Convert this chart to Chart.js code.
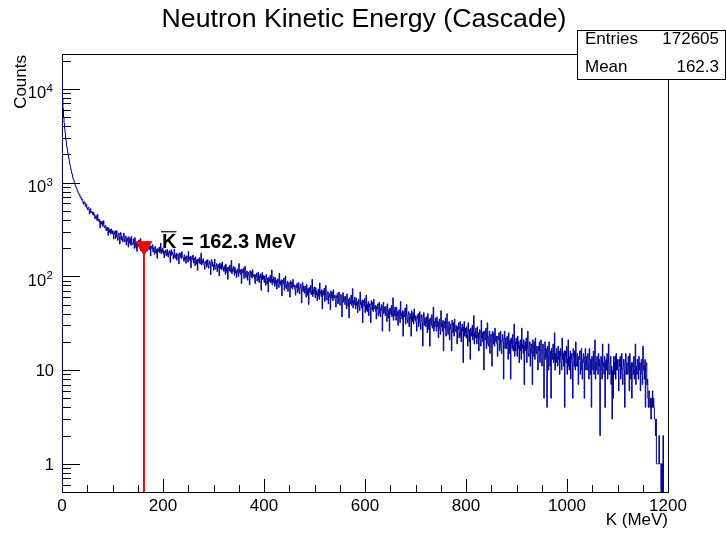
<!DOCTYPE html>
<html><head><meta charset="utf-8">
<script src="https://cdn.jsdelivr.net/npm/chart.js@4.4.0/dist/chart.umd.min.js"></script>
<style>html,body{margin:0;padding:0;background:#fff;}canvas{display:block;}</style>
</head><body>
<canvas id="c" width="726" height="534"></canvas>
<script>
const chartTitle = 'Neutron Kinetic Energy (Cascade)';
const xTitle = 'K (MeV)';
const yTitle = 'Counts';
const binStart = 0;
const binWidth = 1;
const counts = [
12310,7870,6150,5020,4310,3760,3380,2990,2770,2460,2300,2090,1980,1810,1730,1590,1520,1410,1360,1260,
1230,1140,1085,1068,995,982,921,917,868,861,812,806,771,768,731,735,694,702,668,652,
665,628,590,626,603,615,558,565,592,538,516,542,548,517,465,518,529,476,495,474,
479,451,486,450,458,412,435,445,413,395,459,401,407,381,403,330,382,385,362,388,
342,360,392,339,329,345,350,307,327,333,313,273,330,313,295,314,283,321,292,285,
308,280,250,299,285,306,255,272,308,258,242,277,290,264,221,278,294,245,269,251,
234,260,290,241,234,259,270,216,248,258,237,205,265,246,225,255,214,266,229,222,
218,251,227,199,259,231,204,232,185,235,222,209,244,200,209,254,188,216,198,228,
206,191,220,199,209,183,203,214,195,187,236,200,208,193,212,165,205,210,197,218,
182,202,188,172,209,194,177,195,156,198,191,184,205,179,185,226,174,192,181,200,
187,173,158,185,179,191,165,174,194,169,161,180,188,175,141,184,193,168,182,174,
153,168,195,160,156,170,177,149,166,173,162,136,179,170,159,176,155,183,164,160,
158,145,170,153,161,138,156,166,149,142,185,153,160,147,164,123,157,162,151,169,
139,157,144,130,162,149,135,151,116,153,147,140,159,136,142,177,132,147,138,154,
144,132,119,143,138,148,125,134,151,129,122,139,146,134,104,142,151,128,141,133,
116,129,153,122,119,131,137,112,128,134,124,101,139,131,121,136,117,142,126,123,
113,130,118,105,135,123,110,124,93,126,120,115,132,111,116,148,107,121,113,128,
114,103,125,109,117,97,112,120,107,100,137,110,116,105,119,84,114,118,108,123,
95,107,128,100,97,108,114,91,105,110,102,81,115,108,99,112,96,118,103,100,
105,95,84,104,99,108,89,96,111,92,86,101,106,97,71,103,110,92,102,95,
86,101,91,80,105,95,83,96,68,98,93,88,103,85,89,117,81,93,86,99,
88,78,97,84,91,73,86,94,81,76,108,84,89,80,92,62,88,91,83,96,
71,82,101,76,74,84,89,69,81,86,78,60,90,83,76,87,73,93,79,77,
81,72,63,80,76,84,67,73,86,70,65,77,83,74,52,80,86,69,79,73,
66,79,70,60,82,73,63,74,50,76,71,67,80,64,68,93,61,72,65,77,
68,59,76,64,70,55,66,73,62,57,85,65,69,61,72,45,67,71,63,75,
54,63,80,58,56,65,69,51,62,66,60,44,70,64,58,68,55,72,61,59,
63,55,47,62,59,66,51,56,68,53,49,60,64,57,37,62,67,53,61,56,
50,61,53,45,65,56,48,57,36,59,55,51,63,49,52,74,46,55,50,60,
52,45,59,49,54,41,51,57,47,43,68,50,53,46,56,32,52,55,48,58,
41,49,63,44,42,50,54,38,47,51,46,32,55,50,44,53,42,57,47,45,
49,42,35,48,45,51,38,43,53,40,37,46,50,43,26,48,53,40,47,43,
38,48,41,33,51,44,36,44,26,46,42,39,49,37,40,59,34,43,38,47,
41,34,47,38,42,30,39,44,36,32,54,38,41,35,43,23,40,43,37,46,
31,38,50,34,32,39,42,29,37,40,35,23,43,38,33,41,31,45,36,34,
38,32,26,38,35,40,29,33,42,31,27,36,39,33,18,37,41,30,36,33,
29,37,32,25,40,34,27,35,18,36,33,30,39,28,30,47,26,33,29,36,
31,26,37,29,33,22,30,35,27,24,43,29,32,26,34,16,31,33,28,36,
23,29,40,26,24,30,33,21,28,31,27,16,34,30,25,32,23,35,27,26,
30,25,19,29,27,32,22,25,33,23,20,28,31,26,12,29,33,23,28,25,
22,29,24,18,32,26,20,27,13,28,25,23,30,21,23,38,19,25,22,28,
24,19,29,22,25,16,23,27,21,18,34,22,25,20,26,10,24,26,21,28,
17,22,32,19,18,23,26,15,22,24,20,11,26,23,19,25,18,28,21,20,
23,19,14,23,21,25,16,19,26,17,15,21,24,20,8,22,26,17,22,19,
17,23,19,13,25,20,15,21,8,22,19,17,24,16,18,31,14,20,16,22,
19,14,23,17,20,12,18,21,16,13,28,17,19,15,21,7,18,20,16,22,
12,17,26,15,14,18,20,11,17,19,15,7,21,18,14,20,13,22,16,15,
18,14,10,18,16,20,12,15,21,13,11,16,19,15,5,17,20,13,17,14,
4,18,14,10,20,16,11,16,5,17,15,13,19,12,13,25,10,15,12,17,
14,11,18,13,16,9,14,17,12,10,22,13,15,11,16,4,14,16,12,18,
9,13,21,11,10,14,16,8,13,15,12,5,17,14,11,16,10,20,12,11,
15,11,7,14,13,16,9,12,17,10,8,13,15,12,5,14,17,10,14,11,
10,15,12,8,17,13,9,13,4,14,12,10,16,9,11,21,8,12,10,14,
12,9,15,11,13,2,11,14,10,8,19,11,12,9,14,4,12,13,10,15,
8,12,19,9,9,12,14,7,11,3,10,5,14,12,9,14,8,15,10,10,
13,10,6,13,11,14,8,10,15,9,7,11,13,10,4,12,15,9,12,10,
9,14,10,6,15,11,8,12,5,12,11,9,14,8,10,19,7,11,9,13,
11,8,14,10,12,6,10,13,9,7,18,10,11,8,13,4,11,12,7,8,
5,4,6,5,4,5,3,5,4,6,4,5,4,3,3,2,3,1,1,1,
1,1,2,1,1,1,0,1,1,0,2,0,0,0,0,0,0,0,0,0
];
const xTickValues = [0, 200, 400, 600, 800, 1000, 1200];
const xTickLabels = ['0', '200', '400', '600', '800', '1000', '1200'];
const yTickValues = [1, 10, 100, 1000, 10000];
const yTickBases = ['1', '10', '10', '10', '10'];
const yTickExponents = ['', '', '2', '3', '4'];
const statsNames = ['Entries', 'Mean'];
const statsValues = ['172605', '162.3'];
const meanK = [162.3];
const meanMarkerCount = [210];
const meanLabelSymbol = 'K';
const meanLabelText = ' = 162.3 MeV';
const xRange = [0, 1200];
const yRange = [0.5, 23600];

const FONT = "'Liberation Sans', Arial, Helvetica, sans-serif";
const floorVal = yRange[0] / 10;
const plotY = v => (v > 0 ? v : floorVal);

const histPoints = [{x: binStart, y: floorVal}];
counts.forEach((c, i) => histPoints.push({x: binStart + i * binWidth, y: plotY(c)}));
const xEnd = binStart + counts.length * binWidth;
histPoints.push({x: xEnd, y: plotY(counts[counts.length - 1])});
histPoints.push({x: xEnd, y: floorVal});

const markerPoints = meanK.map((k, i) => ({x: k, y: meanMarkerCount[i]}));
const meanLinePoints = [{x: meanK[0], y: yRange[0]}, {x: meanK[0], y: meanMarkerCount[0]}];

const decor = {
  id: 'decor',
  beforeDatasetsDraw(chart) {
    const {ctx, chartArea: a, scales: {x, y}} = chart;
    ctx.save();
    ctx.strokeStyle = '#000';
    ctx.lineWidth = 1;
    ctx.strokeRect(a.left + 0.5, a.top + 0.5, a.right - a.left, a.bottom - a.top);
    ctx.beginPath();
    for (let v = xRange[0]; v <= xRange[1] + 1e-9; v += 50) {
      const px = Math.round(x.getPixelForValue(v)) + 0.5;
      const major = Math.abs(v % 200) < 1e-9;
      const len = major ? 13 : 7;
      ctx.moveTo(px, a.bottom);
      ctx.lineTo(px, a.bottom - len);
    }
    for (let d = 0.1; d <= 1e5; d *= 10) {
      for (let m = 1; m <= 9; m++) {
        const v = m * d;
        if (v < yRange[0] * 0.999 || v > yRange[1]) continue;
        const py = Math.round(y.getPixelForValue(v)) + 0.5;
        const len = m === 1 ? 18 : 9;
        ctx.moveTo(a.left, py);
        ctx.lineTo(a.left + len, py);
      }
    }
    ctx.stroke();
    ctx.restore();
  },
  afterDraw(chart) {
    const {ctx, chartArea: a, scales: {x, y}} = chart;
    ctx.save();
    ctx.fillStyle = '#000';
    ctx.font = `26.7px ${FONT}`;
    ctx.textAlign = 'center';
    ctx.textBaseline = 'alphabetic';
    ctx.fillText(chartTitle, 364, 27);
    ctx.font = `17px ${FONT}`;
    xTickValues.forEach((v, i) => {
      ctx.fillText(xTickLabels[i], x.getPixelForValue(v), 510.5);
    });
    ctx.textAlign = 'right';
    ctx.fillText(xTitle, a.right, 525);
    yTickValues.forEach((v, i) => {
      const py = y.getPixelForValue(v);
      ctx.textAlign = 'right';
      ctx.textBaseline = 'alphabetic';
      if (yTickExponents[i]) {
        ctx.font = `11.5px ${FONT}`;
        ctx.fillText(yTickExponents[i], 53, py + 3);
        const ew = ctx.measureText(yTickExponents[i]).width;
        ctx.font = `16.5px ${FONT}`;
        ctx.fillText(yTickBases[i], 53 - ew - 0.5, py + 9.5);
      } else {
        ctx.font = `16.5px ${FONT}`;
        ctx.fillText(yTickBases[i], 54, py + 6);
      }
    });
    ctx.save();
    ctx.translate(26, a.top + 1);
    ctx.rotate(-Math.PI / 2);
    ctx.font = `17px ${FONT}`;
    ctx.textAlign = 'right';
    ctx.textBaseline = 'alphabetic';
    ctx.fillText(yTitle, 0, 0);
    ctx.restore();
    const lx = x.getPixelForValue(meanK[0]) + 18;
    const ly = y.getPixelForValue(meanMarkerCount[0]) + 2;
    ctx.font = `bold 20px ${FONT}`;
    ctx.textAlign = 'left';
    ctx.fillText(meanLabelSymbol, lx, ly);
    const kw = ctx.measureText(meanLabelSymbol).width;
    ctx.fillText(meanLabelText, lx + kw, ly);
    ctx.strokeStyle = '#333';
    ctx.lineWidth = 1.5;
    ctx.beginPath();
    ctx.moveTo(lx - 1, ly - 16.5);
    ctx.lineTo(lx + kw, ly - 16.5);
    ctx.stroke();
    const bx = 577, by = 30, bw = 148, bh = 49;
    ctx.fillStyle = '#fff';
    ctx.fillRect(bx, by, bw, bh);
    ctx.strokeStyle = '#000';
    ctx.lineWidth = 1;
    ctx.strokeRect(bx + 0.5, by + 0.5, bw, bh);
    ctx.fillStyle = '#000';
    ctx.font = `17px ${FONT}`;
    statsNames.forEach((n, i) => {
      const base = by + 14 + i * 28;
      ctx.textAlign = 'left';
      ctx.fillText(n, bx + 8, base);
      ctx.textAlign = 'right';
      ctx.fillText(statsValues[i], bx + bw - 6, base);
    });
    ctx.restore();
  }
};

new Chart(document.getElementById('c'), {
  type: 'line',
  data: {
    datasets: [
      {
        label: 'mean marker',
        data: markerPoints,
        showLine: false,
        pointStyle: 'triangle',
        rotation: 180,
        pointRadius: 9,
        pointBackgroundColor: '#ff0000',
        pointBorderColor: '#ff0000',
        pointBorderWidth: 1,
        clip: false
      },
      {
        label: 'mean line',
        data: meanLinePoints,
        borderColor: '#ff0000',
        borderWidth: 2,
        pointRadius: 0
      },
      {
        label: 'histogram',
        data: histPoints,
        stepped: true,
        borderColor: '#000099',
        borderWidth: 1,
        pointRadius: 0,
        fill: false
      }
    ]
  },
  options: {
    responsive: false,
    animation: false,
    devicePixelRatio: 1,
    layout: {padding: {left: 62, top: 54, right: 58, bottom: 42}},
    plugins: {legend: {display: false}, title: {display: false}, tooltip: {enabled: false}},
    events: [],
    scales: {
      x: {type: 'linear', min: xRange[0], max: xRange[1], display: false},
      y: {type: 'logarithmic', min: yRange[0], max: yRange[1], display: false}
    }
  },
  plugins: [decor]
});
</script>
</body></html>
